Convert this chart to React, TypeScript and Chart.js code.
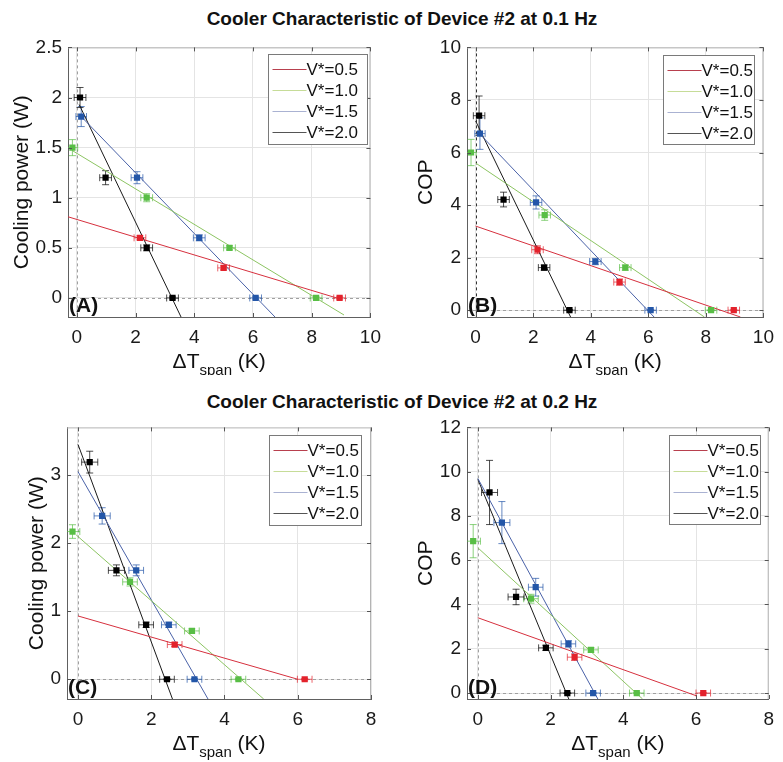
import React, { useEffect, useRef } from 'react';
import { Chart, registerables } from 'chart.js';
Chart.register(...registerables);

const FONT = '"Liberation Sans", Arial, Helvetica, sans-serif';

const seriesLabels = ['V*=0.5', 'V*=1.0', 'V*=1.5', 'V*=2.0'];
const markerColors = ['#e3222c', '#58be45', '#2356a8', '#000000'];
const fitColors = ['#d6303e', '#8cc462', '#4a62a8', '#1a1a1a'];
const errorColors = ['rgba(227,34,44,0.7)', 'rgba(88,190,69,0.7)', 'rgba(35,86,168,0.7)', 'rgba(0,0,0,0.7)'];
const legendLineColors = ['#b8404e', '#c6dc98', '#aab2d2', '#555555'];

const titles = ['Cooler Characteristic of Device #2 at 0.1 Hz', 'Cooler Characteristic of Device #2 at 0.2 Hz'];

const spanTicks01 = [0, 2, 4, 6, 8, 10];
const spanTicks02 = [0, 2, 4, 6, 8];
const powerTicks01 = [0, 0.5, 1, 1.5, 2, 2.5];
const copTicks01 = [0, 2, 4, 6, 8, 10];
const powerTicks02 = [0, 1, 2, 3];
const copTicks02 = [0, 2, 4, 6, 8, 10, 12];

// (A) cooling power, 0.1 Hz
const aSpan = [[2.15, 5.0, 8.95], [-0.15, 2.38, 5.2, 8.15], [0.15, 2.05, 4.17, 6.09], [0.11, 0.98, 2.38, 3.26]];
const aPower = [[0.6, 0.3, 0], [1.5, 1.0, 0.5, 0], [1.81, 1.2, 0.6, 0], [2.0, 1.2, 0.5, 0]];
const aSpanErr = [[0.2, 0.2, 0.2], [0.18, 0.2, 0.2, 0.2], [0.18, 0.2, 0.2, 0.2], [0.2, 0.2, 0.2, 0.2]];
const aPowerErr = [[0.02, 0.02, 0.01], [0.08, 0.04, 0.02, 0.01], [0.1, 0.06, 0.03, 0.01], [0.1, 0.07, 0.03, 0.01]];
const aFit = [[[-0.3, 0.81], [8.85, 0]], [[-0.15, 1.47], [9.1, -0.17]], [[0.15, 1.81], [6.75, -0.19]], [[0.08, 1.93], [3.55, -0.19]]];

// (B) COP, 0.1 Hz
const bSpan = [[2.15, 5.0, 8.97], [-0.16, 2.4, 5.2, 8.18], [0.15, 2.1, 4.16, 6.08], [0.12, 0.97, 2.38, 3.26]];
const bCop = [[2.3, 1.07, 0], [6.0, 3.62, 1.62, 0], [6.72, 4.1, 1.85, 0], [7.4, 4.21, 1.62, 0]];
const bSpanErr = [[0.2, 0.2, 0.2], [0.18, 0.2, 0.2, 0.2], [0.18, 0.2, 0.2, 0.2], [0.2, 0.2, 0.2, 0.2]];
const bCopErr = [[0.15, 0.12, 0.02], [0.5, 0.2, 0.1, 0.02], [0.6, 0.25, 0.12, 0.02], [0.75, 0.28, 0.1, 0.02]];
const bFit = [[[0, 3.2], [9.2, -0.26]], [[0, 5.6], [7.95, -0.26]], [[0.15, 6.7], [6.2, -0.26]], [[0, 7.2], [3.3, -0.26]]];

// (C) cooling power, 0.2 Hz
const cSpan = [[2.64, 6.19], [-0.15, 1.42, 3.11, 4.38], [0.66, 1.59, 2.48, 3.18], [0.32, 1.05, 1.86, 2.43]];
const cPower = [[0.51, 0], [2.17, 1.43, 0.71, 0], [2.4, 1.6, 0.8, 0], [3.19, 1.6, 0.8, 0]];
const cSpanErr = [[0.2, 0.2], [0.2, 0.2, 0.2, 0.2], [0.22, 0.2, 0.2, 0.2], [0.22, 0.22, 0.2, 0.2]];
const cPowerErr = [[0.03, 0.01], [0.1, 0.06, 0.03, 0.01], [0.12, 0.08, 0.04, 0.01], [0.16, 0.08, 0.04, 0.01]];
const cFit = [[[0, 0.93], [6.0, 0]], [[-0.05, 2.12], [5.07, -0.29]], [[0, 3.05], [3.55, -0.29]], [[0, 3.45], [2.58, -0.29]]];

// (D) COP, 0.2 Hz
const dSpan = [[2.66, 6.2], [-0.13, 1.46, 3.11, 4.37], [0.66, 1.59, 2.49, 3.17], [0.32, 1.05, 1.87, 2.46]];
const dCop = [[1.62, 0], [6.86, 4.26, 1.95, 0], [7.7, 4.78, 2.22, 0], [9.06, 4.34, 2.04, 0]];
const dSpanErr = [[0.2, 0.2], [0.2, 0.2, 0.2, 0.2], [0.22, 0.2, 0.2, 0.2], [0.22, 0.22, 0.2, 0.2]];
const dCopErr = [[0.15, 0.02], [0.75, 0.2, 0.1, 0.02], [0.95, 0.4, 0.15, 0.02], [1.45, 0.35, 0.12, 0.02]];
const dFit = [[[0, 3.4], [6.0, -0.12]], [[0, 6.56], [4.53, -0.27]], [[0, 9.69], [3.3, -0.27]], [[0, 9.65], [2.5, -0.27]]];

type Panel = {
  tag: string;
  span: number[][];
  val: number[][];
  spanErr: number[][];
  valErr: number[][];
  fit: number[][][];
  xMin: number; xMax: number; yMin: number; yMax: number;
  xTicks: number[]; yTicks: number[];
  yTitle: string;
  left: number; top: number; width: number; height: number;
  axisW: number; axisH: number; padRight: number;
  yTitleX: number;
  legendRight: number; legendTop: number; legendW: number; legendH: number;
  zeroColor: string;
};

const panels: Panel[] = [
  {
    tag: '(A)', span: aSpan, val: aPower, spanErr: aSpanErr, valErr: aPowerErr, fit: aFit,
    xMin: -0.3, xMax: 10, yMin: -0.19, yMax: 2.5, xTicks: spanTicks01, yTicks: powerTicks01,
    yTitle: 'Cooling power (W)',
    left: 0, top: 30, width: 390, height: 345, axisW: 68, axisH: 58, padRight: 19, yTitleX: 22,
    legendRight: 3, legendTop: 7, legendW: 99, legendH: 90, zeroColor: '#a0a0a0',
  },
  {
    tag: '(B)', span: bSpan, val: bCop, spanErr: bSpanErr, valErr: bCopErr, fit: bFit,
    xMin: -0.3, xMax: 10, yMin: -0.26, yMax: 10, xTicks: spanTicks01, yTicks: copTicks01,
    yTitle: 'COP',
    left: 392, top: 30, width: 391, height: 345, axisW: 75, axisH: 58, padRight: 12, yTitleX: 34,
    legendRight: 9, legendTop: 8, legendW: 91, legendH: 89, zeroColor: '#333333',
  },
  {
    tag: '(C)', span: cSpan, val: cPower, spanErr: cSpanErr, valErr: cPowerErr, fit: cFit,
    xMin: -0.3, xMax: 8, yMin: -0.29, yMax: 3.7, xTicks: spanTicks02, yTicks: powerTicks02,
    yTitle: 'Cooling power (W)',
    left: 0, top: 410, width: 390, height: 352, axisW: 67, axisH: 63, padRight: 19, yTitleX: 37,
    legendRight: 10, legendTop: 8, legendW: 92, legendH: 90, zeroColor: '#a0a0a0',
  },
  {
    tag: '(D)', span: dSpan, val: dCop, spanErr: dSpanErr, valErr: dCopErr, fit: dFit,
    xMin: -0.3, xMax: 8, yMin: -0.27, yMax: 12, xTicks: spanTicks02, yTicks: copTicks02,
    yTitle: 'COP',
    left: 392, top: 410, width: 391, height: 352, axisW: 75, axisH: 63, padRight: 12, yTitleX: 34,
    legendRight: 9, legendTop: 8, legendW: 91, legendH: 89, zeroColor: '#a0a0a0',
  },
];

function seg(ctx: CanvasRenderingContext2D, x1: number, y1: number, x2: number, y2: number) {
  ctx.beginPath();
  ctx.moveTo(x1, y1);
  ctx.lineTo(x2, y2);
  ctx.stroke();
}

function overlay(p: Panel) {
  return {
    id: 'overlay',
    beforeDatasetsDraw(chart: any) {
      const { ctx, chartArea: a, scales } = chart;
      const xs = scales.x, ys = scales.y;
      ctx.save();
      ctx.beginPath();
      ctx.rect(a.left, a.top, a.right - a.left, a.bottom - a.top);
      ctx.clip();
      ctx.lineWidth = 1;
      ctx.setLineDash([3, 3]);
      ctx.strokeStyle = '#a0a0a0';
      const y0 = Math.round(ys.getPixelForValue(0)) + 0.5;
      seg(ctx, a.left, y0, a.right, y0);
      ctx.strokeStyle = p.zeroColor;
      const x0 = Math.round(xs.getPixelForValue(0)) + 0.5;
      seg(ctx, x0, a.top, x0, a.bottom);
      ctx.setLineDash([]);
      p.span.forEach((arr, s) => {
        ctx.strokeStyle = errorColors[s];
        arr.forEach((xv, i) => {
          const yv = p.val[s][i];
          const px = xs.getPixelForValue(xv);
          const py = ys.getPixelForValue(yv);
          const xl = xs.getPixelForValue(xv - p.spanErr[s][i]);
          const xr = xs.getPixelForValue(xv + p.spanErr[s][i]);
          const yt = ys.getPixelForValue(yv + p.valErr[s][i]);
          const yb = ys.getPixelForValue(yv - p.valErr[s][i]);
          seg(ctx, xl, py, xr, py);
          seg(ctx, xl, py - 3.5, xl, py + 3.5);
          seg(ctx, xr, py - 3.5, xr, py + 3.5);
          seg(ctx, px, yt, px, yb);
          seg(ctx, px - 3.5, yt, px + 3.5, yt);
          seg(ctx, px - 3.5, yb, px + 3.5, yb);
        });
      });
      ctx.restore();
    },
    afterDraw(chart: any) {
      const { ctx, chartArea: a, scales } = chart;
      const xs = scales.x, ys = scales.y;
      ctx.save();
      ctx.lineWidth = 1;
      // top/right box
      ctx.strokeStyle = '#b4b4b4';
      seg(ctx, a.left, a.top + 0.5, a.right, a.top + 0.5);
      seg(ctx, a.right - 0.5, a.top, a.right - 0.5, a.bottom);
      // inward ticks
      ctx.strokeStyle = '#555';
      p.xTicks.forEach((v) => {
        const x = Math.round(xs.getPixelForValue(v)) + 0.5;
        seg(ctx, x, a.bottom, x, a.bottom - 4);
        seg(ctx, x, a.top, x, a.top + 4);
      });
      p.yTicks.forEach((v) => {
        const y = Math.round(ys.getPixelForValue(v)) + 0.5;
        seg(ctx, a.left, y, a.left + 4, y);
        seg(ctx, a.right, y, a.right - 4, y);
      });
      // legend
      const lx = Math.round(a.right - p.legendRight - p.legendW) + 0.5;
      const ly = Math.round(a.top + p.legendTop) + 0.5;
      ctx.fillStyle = '#ffffff';
      ctx.fillRect(lx, ly, p.legendW, p.legendH);
      ctx.strokeStyle = '#7a7a7a';
      ctx.strokeRect(lx, ly, p.legendW, p.legendH);
      ctx.font = `17px ${FONT}`;
      ctx.textBaseline = 'middle';
      ctx.textAlign = 'left';
      seriesLabels.forEach((lab, s) => {
        const yy = ly + 15 + s * 21;
        ctx.strokeStyle = legendLineColors[s];
        seg(ctx, lx + 4, yy, lx + 38, yy);
        ctx.fillStyle = '#111';
        ctx.fillText(lab, lx + 38, yy + 1);
      });
      // tag
      ctx.font = `bold 21px ${FONT}`;
      ctx.textBaseline = 'alphabetic';
      ctx.fillStyle = '#111';
      ctx.fillText(p.tag, a.left + 1, a.bottom - 5);
      // y title
      ctx.save();
      ctx.translate(p.yTitleX, (a.top + a.bottom) / 2);
      ctx.rotate(-Math.PI / 2);
      ctx.font = `21px ${FONT}`;
      ctx.textAlign = 'center';
      ctx.textBaseline = 'middle';
      ctx.fillText(p.yTitle, 0, 0);
      ctx.restore();
      // x title with subscript
      const big = `21px ${FONT}`;
      const small = `15px ${FONT}`;
      ctx.font = big;
      const w1 = ctx.measureText('\u0394T').width;
      const w3 = ctx.measureText(' (K)').width;
      ctx.font = small;
      const w2 = ctx.measureText('span').width;
      const total = w1 + w2 + w3;
      let x = (a.left + a.right) / 2 - total / 2;
      const base = a.bottom + 51;
      ctx.textAlign = 'left';
      ctx.textBaseline = 'alphabetic';
      ctx.font = big;
      ctx.fillText('\u0394T', x, base);
      x += w1;
      ctx.font = small;
      ctx.fillText('span', x, base + 7);
      x += w2;
      ctx.font = big;
      ctx.fillText(' (K)', x, base);
      ctx.restore();
    },
  };
}

function PanelChart({ p }: { p: Panel }) {
  const ref = useRef<HTMLCanvasElement>(null);
  useEffect(() => {
    const datasets: any[] = [];
    p.span.forEach((arr, s) => {
      datasets.push({
        label: seriesLabels[s],
        data: arr.map((x, i) => ({ x, y: p.val[s][i] })),
        pointStyle: 'rect',
        pointRadius: 4.4,
        backgroundColor: markerColors[s],
        borderColor: markerColors[s],
        borderWidth: 0,
        showLine: false,
        order: 0,
      });
    });
    p.fit.forEach((pts, s) => {
      datasets.push({
        label: seriesLabels[s] + ' fit',
        data: pts.map(([x, y]) => ({ x, y })),
        showLine: true,
        borderColor: fitColors[s],
        borderWidth: 1,
        pointRadius: 0,
        order: 1,
      });
    });
    const tickFont = { family: FONT, size: 19 };
    const chart = new Chart(ref.current as HTMLCanvasElement, {
      type: 'scatter',
      data: { datasets },
      options: {
        animation: false,
        responsive: false,
        events: [],
        layout: { padding: { left: 0, top: 15, right: p.padRight, bottom: 0 } },
        plugins: { legend: { display: false }, tooltip: { enabled: false } },
        scales: {
          x: {
            type: 'linear',
            min: p.xMin,
            max: p.xMax,
            afterBuildTicks: (sc: any) => { sc.ticks = p.xTicks.map((v) => ({ value: v })); },
            afterFit: (sc: any) => { sc.height = p.axisH; },
            grid: { color: '#e4e4e4', drawTicks: false },
            border: { display: true, color: '#606060' },
            ticks: { font: tickFont, color: '#1a1a1a', padding: 9, maxRotation: 0, autoSkip: false, callback: (v: any) => String(v) },
          },
          y: {
            type: 'linear',
            min: p.yMin,
            max: p.yMax,
            afterBuildTicks: (sc: any) => { sc.ticks = p.yTicks.map((v) => ({ value: v })); },
            afterFit: (sc: any) => { sc.width = p.axisW; },
            grid: { color: '#e4e4e4', drawTicks: false },
            border: { display: true, color: '#606060' },
            ticks: { font: tickFont, color: '#1a1a1a', padding: 6, autoSkip: false, callback: (v: any) => String(v) },
          },
        },
      } as any,
      plugins: [overlay(p)],
    });
    return () => chart.destroy();
  }, []);
  return (
    <canvas
      ref={ref}
      width={p.width}
      height={p.height}
      style={{ position: 'absolute', left: p.left, top: p.top, width: p.width, height: p.height }}
    />
  );
}

const titleStyle = (top: number): React.CSSProperties => ({
  position: 'absolute',
  left: 402,
  top,
  transform: 'translateX(-50%)',
  whiteSpace: 'nowrap',
  fontFamily: FONT,
  fontWeight: 'bold',
  fontSize: 19,
  lineHeight: '19px',
  color: '#111',
});

export default function App() {
  return (
    <div style={{ position: 'absolute', left: 0, top: 0, width: 783, height: 762, background: '#fff', overflow: 'hidden' }}>
      <div style={titleStyle(9)}>{titles[0]}</div>
      <div style={titleStyle(392)}>{titles[1]}</div>
      {panels.map((p) => (
        <PanelChart key={p.tag} p={p} />
      ))}
    </div>
  );
}
